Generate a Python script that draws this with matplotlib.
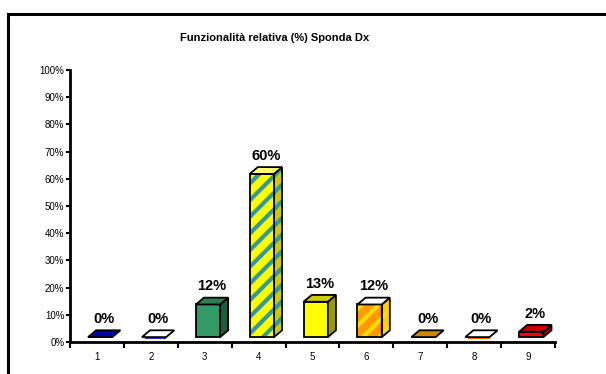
import numpy as np
import matplotlib
matplotlib.use("Agg")
import matplotlib.pyplot as plt
from matplotlib.patches import Polygon, Rectangle

plt.rcParams['font.family'] = ['Liberation Sans', 'DejaVu Sans']
plt.rcParams['hatch.linewidth'] = 3.0

# categories and relative functionality (%)
categories = ['1', '2', '3', '4', '5', '6', '7', '8', '9']
values = [0, 0, 12, 60, 13, 12, 0, 0, 2]
value_labels = ['0%', '0%', '12%', '60%', '13%', '12%', '0%', '0%', '2%']

# front / side / top colours, optional stripe colour
front_colors = ['#000080', '#ffffff', '#339966', '#ffff00', '#ffff00', '#ff9900', '#cc8800', '#ffffff', '#ff0000']
side_colors = ['#000050', '#3333cc', '#1f5c3d', '#cccc00', '#999900', '#ffcc00', '#8a5c00', '#ff6600', '#990000']
top_colors = ['#0000aa', '#ffffff', '#2e7d55', '#ffff66', '#cccc00', '#ffffff', '#cc8800', '#ffffff', '#cc0000']
stripe_colors = [None, None, None, '#339999', None, '#ffdd00', None, None, None]

fig = plt.figure(figsize=(6.06, 3.74), dpi=100)
W, H = 606, 374

# outer chart border (runs off the right and bottom edges)
fig.patches.append(Rectangle((8 / W, -0.1), 1.2, 1 - 14.5 / H + 0.1,
                             transform=fig.transFigure, fill=False,
                             edgecolor='black', linewidth=2.2))

ax = fig.add_axes([70 / W, 1 - 342 / H, 485 / W, 272 / H])
ax.set_xlim(0.5, 9.5)
ax.set_ylim(0, 100)

# bar geometry in data units
w = 0.45           # front face width
off = 0.06         # front face shift from category centre
y0 = 1.8           # floor lift
dx, dy = 0.15, 2.5  # depth

for i, v in enumerate(values):
    xc = i + 1 + off
    xl, xr = xc - w / 2, xc + w / 2
    yb, yt = y0, y0 + v
    front = [(xl, yb), (xr, yb), (xr, yt), (xl, yt)]
    side = [(xr, yb), (xr + dx, yb + dy), (xr + dx, yt + dy), (xr, yt)]
    top = [(xl, yt), (xr, yt), (xr + dx, yt + dy), (xl + dx, yt + dy)]
    stripe = stripe_colors[i]
    faces = [(front, front_colors[i]), (side, side_colors[i]), (top, top_colors[i])]
    for pts, col in faces:
        if v == 0 and pts is not top:
            continue
        if stripe is not None and pts is not top:
            ax.add_patch(Polygon(pts, closed=True, facecolor=col, edgecolor=stripe,
                                 hatch='//', linewidth=0, zorder=3))
            ax.add_patch(Polygon(pts, closed=True, fill=False, edgecolor='black',
                                 linewidth=1.3, zorder=4))
        else:
            ax.add_patch(Polygon(pts, closed=True, facecolor=col, edgecolor='black',
                                 linewidth=1.3, zorder=4))
    if v == 0 and front_colors[i] == '#ffffff':
        ax.plot([xl + 0.05, xr], [yb - 0.3, yb - 0.3], color=side_colors[i],
                lw=1.5, zorder=3, solid_capstyle='butt')
    ax.text(xc + dx / 2, yt + 5.2, value_labels[i], ha='center', va='baseline',
            fontsize=10.5, fontweight='bold', zorder=5)

for s in ['top', 'right']:
    ax.spines[s].set_visible(False)
for s in ['left', 'bottom']:
    ax.spines[s].set_linewidth(2)

ax.set_yticks(np.arange(0, 101, 10))
ax.set_yticklabels([f'{t}%' for t in range(0, 101, 10)], fontsize=7)
ax.tick_params(axis='y', direction='out', length=3, width=1.5, pad=1)

ax.set_xticks(np.arange(0.5, 10, 1))
ax.set_xticklabels([])
ax.set_xticks(np.arange(1, 10), minor=True)
ax.set_xticklabels(categories, minor=True, fontsize=7)
ax.tick_params(axis='x', which='major', direction='out', length=4, width=1.5)
ax.tick_params(axis='x', which='minor', length=0, pad=7)

fig.text(275 / W, 1 - 38 / H, 'Funzionalità relativa (%) Sponda Dx',
         ha='center', va='center', fontsize=8, fontweight='bold')

fig.savefig('out.png', dpi=100)
